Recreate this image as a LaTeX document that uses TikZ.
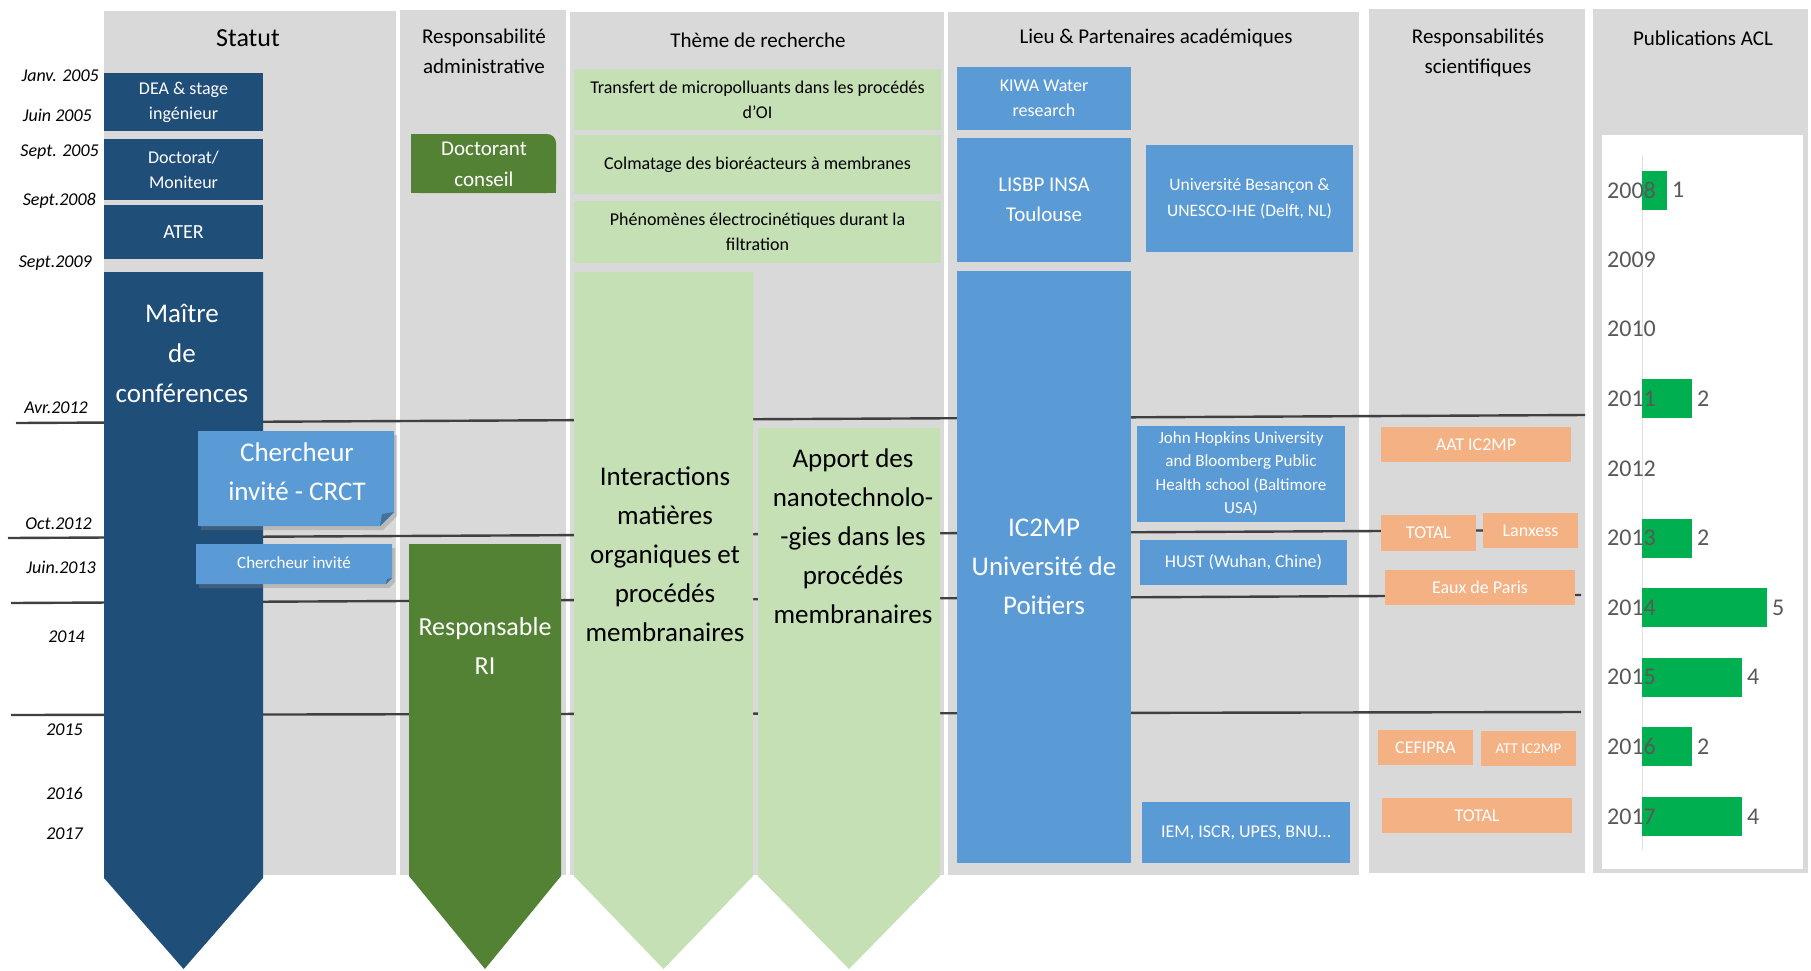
\documentclass[tikz,border=0pt]{standalone}
\usepackage{fontspec}
\setmainfont{Carlito}
\usetikzlibrary{shadows}
\definecolor{panelgray}{HTML}{D9D9D9}
\definecolor{navy}{HTML}{1F4E79}
\definecolor{midblue}{HTML}{5B9BD5}
\definecolor{foldblue}{HTML}{41719C}
\definecolor{dgreen}{HTML}{548235}
\definecolor{lgreen}{HTML}{C5E0B4}
\definecolor{peach}{HTML}{F4B183}
\definecolor{bargreen}{HTML}{00B050}
\definecolor{linegray}{HTML}{404040}
\definecolor{labgray}{HTML}{595959}
\definecolor{axisgray}{HTML}{E0E0E0}
\newcommand\fsz[2]{\fontsize{#1pt}{#2pt}\selectfont}
\begin{document}
\begin{tikzpicture}[x=1pt,y=-1pt,
  panel/.style={fill=panelgray},
  tline/.style={draw=linegray,line width=2.4pt},
  box/.style={inner sep=0pt,outer sep=0pt,align=center,text=white},
  txt/.style={inner sep=0pt,outer sep=0pt,align=center},
  datelab/.style={inner sep=0pt,anchor=east,font=\fsz{18}{22}\itshape},
  head/.style={inner sep=0pt,align=center,font=\fsz{21}{30}},
  navybox/.style={box,fill=navy,font=\fsz{18}{25}},
  greenbox/.style={box,fill=lgreen,text=black,font=\fsz{18}{25}},
  bluebox/.style={box,fill=midblue,font=\fsz{18}{25}},
  peachbox/.style={box,fill=peach,font=\fsz{18}{22}},
  chartlab/.style={inner sep=0pt,anchor=west,text=labgray,font=\fsz{24}{28}}
]
\useasboundingbox (0,0) rectangle (1811,970);
\fill[white] (0,0) rectangle (1811,970);

% panels
\fill[panel] (104,11) rectangle (396,875);
\fill[panel] (400,10) rectangle (566,875);
\fill[panel] (570,12) rectangle (944,875);
\fill[panel] (948,12) rectangle (1359,875);
\fill[panel] (1369,9) rectangle (1585,873);
\fill[panel] (1593,9) rectangle (1808,873);

% headers
\node[head,font=\fsz{26}{30}] (hstatut) at (248,38) {Statut};
\node[head] (hadmin) at (484,51) {Responsabilité\\administrative};
\node[head] (htheme) at (758,40) {Thème de recherche};
\node[head] (hlieu) at (1156,38) {Lieu \& Partenaires académiques};
\node[head] (hsci) at (1478,53) {Responsabilités\\scientifiques};
\node[head] (hpub) at (1703,38) {Publications ACL};

% timeline lines
\coordinate (a1) at (16,423);  \coordinate (a2) at (1585,415);
\coordinate (b1) at (8,538);   \coordinate (b2) at (1575,530);
\coordinate (c1) at (11,603);  \coordinate (c2) at (1581,595);
\coordinate (d1) at (11,715);  \coordinate (d2) at (1581,712);
\draw[tline] (a1) -- (a2);
\draw[tline] (b1) -- (b2);
\draw[tline] (c1) -- (c2);
\draw[tline] (d1) -- (d2);

% date labels
\node[datelab] (t1) at (99,76) {Janv. 2005};
\node[datelab] (t2) at (92,115) {Juin 2005};
\node[datelab] (t3) at (99,152) {Sept. 2005};
\node[datelab] (t4) at (96,201) {Sept.2008};
\node[datelab] (t5) at (92,263) {Sept.2009};
\node[datelab] (t6) at (88,408) {Avr.2012};
\node[datelab] (t7) at (92,524) {Oct.2012};
\node[datelab] (t8) at (96,567) {Juin.2013};
\node[datelab] (t9) at (85,637) {2014};
\node[datelab] (t10) at (83,730) {2015};
\node[datelab] (t11) at (83,793) {2016};
\node[datelab] (t12) at (83,834) {2017};

% Statut column
\node[navybox,minimum width=159pt,minimum height=58pt] (dea) at (183.5,102) {DEA \& stage\\ingénieur};
\node[navybox,minimum width=159pt,minimum height=61pt] (doct) at (183.5,169.5) {Doctorat/\\Moniteur};
\node[navybox,font=\fsz{20}{24},minimum width=159pt,minimum height=54pt] (ater) at (183.5,232) {ATER};
\fill[navy] (104,272) -- (263,272) -- (263,878) -- (183.5,969) -- (104,878) -- cycle;
\node[txt,text=white,font=\fsz{27}{40}] (mcf) at (182,353) {Maître\\de\\conférences};

% Chercheur invite CRCT
\fill[midblue,drop shadow={shadow xshift=3pt,shadow yshift=-4pt,opacity=.35}] (198,431) -- (394,431) -- (394,512) -- (380,526) -- (198,526) -- cycle;
\fill[foldblue] (380,526) -- (394,512) -- (382,514) -- cycle;
\node[txt,text=white,font=\fsz{27}{39}] (crct) at (297,472) {Chercheur\\invité - CRCT};
\fill[midblue,drop shadow={shadow xshift=3pt,shadow yshift=-4pt,opacity=.35}] (196,544) -- (392,544) -- (392,578) -- (386,584) -- (196,584) -- cycle;
\fill[foldblue] (386,584) -- (392,578) -- (387,579) -- cycle;
\node[txt,text=white,font=\fsz{17}{20}] (chinv) at (294,563) {Chercheur invité};

% Responsabilite administrative
\fill[dgreen,rounded corners=9pt] (411,134) rectangle (556,193);
\fill[dgreen] (411,134) rectangle (535,193);
\fill[dgreen] (411,160) rectangle (556,193);
\node[txt,text=white,font=\fsz{21}{31}] (dconseil) at (484,164) {Doctorant\\conseil};
\fill[dgreen] (409,544) -- (561,544) -- (561,876) -- (485,969) -- (409,876) -- cycle;
\node[txt,text=white,font=\fsz{26}{39}] (respri) at (485,646) {Responsable\\RI};

% Theme de recherche
\node[greenbox,minimum width=367pt,minimum height=61pt] (transf) at (757.5,99.5) {Transfert de micropolluants dans les procédés\\d’OI};
\node[greenbox,minimum width=367pt,minimum height=59pt] (colm) at (757.5,164.5) {Colmatage des bioréacteurs à membranes};
\node[greenbox,minimum width=367pt,minimum height=62pt] (phen) at (757.5,232) {Phénomènes électrocinétiques durant la\\filtration};
\fill[lgreen] (574,272) -- (753,272) -- (753,876) -- (663.5,969) -- (574,876) -- cycle;
\node[txt,font=\fsz{27}{39}] (inter) at (665,554) {Interactions\\matières\\organiques et\\procédés\\membranaires};
\fill[lgreen] (758,428) -- (940,428) -- (940,876) -- (849,969) -- (758,876) -- cycle;
\node[txt,font=\fsz{27}{39}] (apport) at (853,536) {Apport des\\nanotechnolo-\\-gies dans les\\procédés\\membranaires};

% Lieu & partenaires
\node[bluebox,minimum width=174pt,minimum height=63pt] (kiwa) at (1044,98.5) {KIWA Water\\research};
\node[bluebox,font=\fsz{21}{30},minimum width=174pt,minimum height=124pt] (lisbp) at (1044,200) {LISBP INSA\\Toulouse};
\node[bluebox,font=\fsz{17.5}{26},minimum width=207pt,minimum height=107pt] (besan) at (1249.5,198.5) {Université Besançon \&\\UNESCO-IHE (Delft, NL)};
\node[bluebox,font=\fsz{27}{39},minimum width=174pt,minimum height=592pt] (ic2mp) at (1044,567) {IC2MP\\Université de\\Poitiers};
\node[bluebox,font=\fsz{17}{23.5},minimum width=208pt,minimum height=96pt] (jhu) at (1241,474) {John Hopkins University\\and Bloomberg Public\\Health school (Baltimore\\USA)};
\node[bluebox,minimum width=207pt,minimum height=45pt] (hust) at (1243.5,562.5) {HUST (Wuhan, Chine)};
\node[bluebox,minimum width=208pt,minimum height=61pt] (iem) at (1246,832.5) {IEM, ISCR, UPES, BNU…};

% Responsabilites scientifiques
\node[peachbox,minimum width=190pt,minimum height=35pt] (aat) at (1476,444.5) {AAT IC2MP};
\node[peachbox,minimum width=95pt,minimum height=36pt] (total1) at (1428.5,533) {TOTAL};
\node[peachbox,minimum width=95pt,minimum height=35pt] (lanx) at (1530.5,530.5) {Lanxess};
\node[peachbox,minimum width=190pt,minimum height=35pt] (eaux) at (1480,587.5) {Eaux de Paris};
\node[peachbox,minimum width=95pt,minimum height=35pt] (cefi) at (1425.5,747.5) {CEFIPRA};
\node[peachbox,font=\fsz{15}{18},minimum width=95pt,minimum height=35pt] (att) at (1528.5,748.5) {ATT IC2MP};
\node[peachbox,minimum width=190pt,minimum height=35pt] (total2) at (1477,815.5) {TOTAL};

% Publications chart
\fill[white] (1602,135) rectangle (1803,869);
\draw[axisgray,line width=1pt] (1642,155) -- (1642,850);
\foreach \v [count=\k from 0] in {1,0,0,2,0,2,5,4,2,4} {
  \pgfmathsetmacro\cy{190+69.6*\k}
  \pgfmathtruncatemacro\yr{2008+\k}
  \ifnum\v>0
    \fill[bargreen] (1642,\cy-19.5) rectangle (1642+25*\v,\cy+19.5);
    \node[chartlab] (val\k) at (1642+25*\v+5,\cy) {\v};
  \fi
  \node[chartlab] (yr\k) at (1607,\cy) {\yr};
}
\end{tikzpicture}
\end{document}
